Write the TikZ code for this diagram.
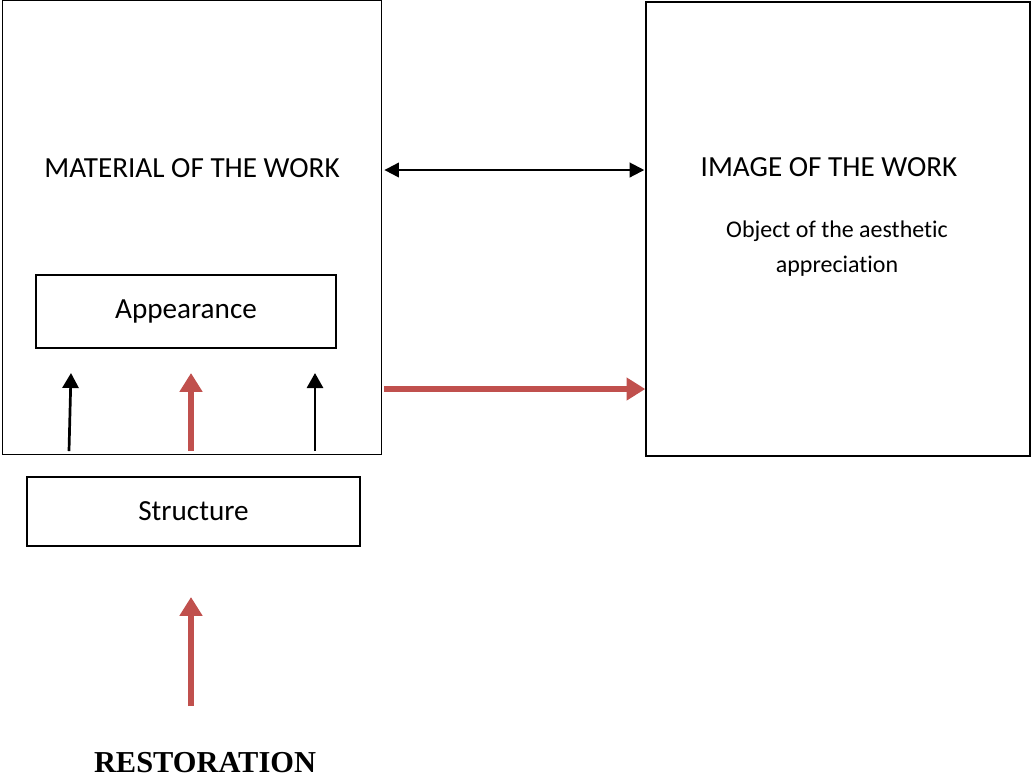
\documentclass[tikz,border=0pt]{standalone}
\usepackage{fontspec}
\setmainfont[Ligatures=CommonOff]{Carlito}
\newfontfamily\timesfont{Liberation Serif}
\usetikzlibrary{arrows.meta,positioning}
\definecolor{restred}{HTML}{C0504D}

\begin{document}
\begin{tikzpicture}[
    x=0.48pt, y=-0.48pt,
    box/.style={rectangle, draw=black, line width=0.7pt, inner sep=0pt},
    bigbox/.style={box, minimum width=182pt, minimum height=218pt},
    smallbox/.style={box, font=\fontsize{14}{17}\selectfont},
    title/.style={font=\fontsize{14}{17}\selectfont},
    subtext/.style={font=\fontsize{11.5}{16.8}\selectfont, align=center},
    blackarrow/.style={line width=1.3pt, -{Triangle[length=7.2pt, width=7.7pt]}},
    redarrow/.style={draw=restred, line width=3pt, -{Triangle[length=9pt, width=10.5pt]}}
]
\useasboundingbox (0,0) rectangle (1032,776);
% Boxes
\node[bigbox] (material) at (192, 227.5) {};
\node[bigbox, minimum width=184.3pt] (image) at (838, 229) {};
\node[smallbox, minimum width=144pt, minimum height=35pt] (appearance) at (186, 311.5) {Appearance};
\node[smallbox, minimum width=159.8pt, minimum height=33.1pt] (structure) at (193.5, 511.5) {Structure};
% Texts
\node[title] (materiallabel) at (192, 168) {MATERIAL OF THE WORK};
\node[title] (imagelabel) at (829, 167) {IMAGE OF THE WORK};
\node[subtext] (imagesub) at (837, 249) {Object of the aesthetic\\appreciation};
\node[anchor=base, font=\timesfont\bfseries\fontsize{14.6}{17}\selectfont] (restoration) at (205, 772) {RESTORATION};
% Helper coordinates
\coordinate (linktop) at (0, 170);
\coordinate (linkred) at (0, 389);
\coordinate (leftfoot) at (69, 451);
\coordinate (lefthead) at (71, 373);
\coordinate (midfoot) at (191, 451);
\coordinate (midhead) at (191, 373);
\coordinate (rightfoot) at (315, 451);
\coordinate (righthead) at (315, 373);
\coordinate (restfoot) at (191, 706);
\coordinate (resthead) at (191, 597);
% Arrows between the two works
\draw[line width=1pt, {Triangle[length=7pt, width=7pt]}-{Triangle[length=7pt, width=7pt]}]
    ([xshift=1pt]material.east |- linktop) -- ([xshift=-0.5pt]image.west |- linktop);
\draw[redarrow] ([xshift=1pt]material.east |- linkred) -- (image.west |- linkred);
% Arrows inside the material
\draw[blackarrow] (leftfoot) -- (lefthead);
\draw[redarrow] (midfoot) -- (midhead);
\draw[blackarrow] (rightfoot) -- (righthead);
% Restoration arrow
\draw[redarrow] (restfoot) -- (resthead);
\end{tikzpicture}
\end{document}
